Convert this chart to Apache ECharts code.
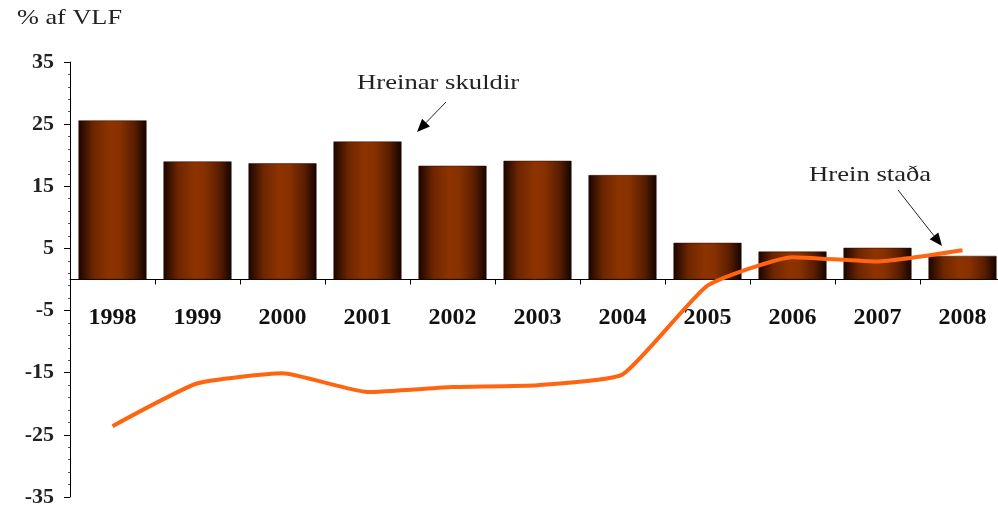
<!DOCTYPE html>
<html><head><meta charset="utf-8">
<script src="https://cdn.jsdelivr.net/npm/echarts@6/dist/echarts.min.js"></script>
<style>html,body{margin:0;padding:0;background:#fff}#c{width:998px;height:514px}</style>
</head><body><div id="c"></div>
<script>
var years = ['1998','1999','2000','2001','2002','2003','2004','2005','2006','2007','2008'];
var netDebt = [25.6, 19.0, 18.7, 22.2, 18.3, 19.1, 16.8, 5.9, 4.5, 5.1, 3.8];
var netPosition = [-23.6, -16.7, -15.1, -18.1, -17.3, -17.0, -15.3, -1.0, 3.6, 2.9, 4.7];
var yTicks = {min: -35, max: 35, interval: 10};

var serif = 'Liberation Serif';
var gridTop = 62, gridBottom = 17, H = 514;
var plotH = H - gridTop - gridBottom;
var zeroOffset = -plotH * (0 - yTicks.min) / (yTicks.max - yTicks.min);

var chart = echarts.init(document.getElementById('c'));
var barGrad = new echarts.graphic.LinearGradient(0, 0, 1, 0, [
  {offset: 0, color: '#1a0500'},
  {offset: 0.22, color: '#6e2600'},
  {offset: 0.45, color: '#8d3300'},
  {offset: 0.6, color: '#883100'},
  {offset: 0.82, color: '#5a1e00'},
  {offset: 1, color: '#140400'}
]);
function arrow(x1, y1, x2, y2) {
  var a = Math.atan2(y2 - y1, x2 - x1), L = 13, W = 5.5;
  var bx = x2 - L * Math.cos(a), by = y2 - L * Math.sin(a);
  return [
    {type: 'line', shape: {x1: x1, y1: y1, x2: bx, y2: by}, style: {stroke: '#222', lineWidth: 1}},
    {type: 'polygon', shape: {points: [[x2, y2],
      [bx + W * Math.sin(a), by - W * Math.cos(a)],
      [bx - W * Math.sin(a), by + W * Math.cos(a)]]}, style: {fill: '#000'}}
  ];
}
function label(txt, x, y, size, sx) {
  return {type: 'text', x: x, y: y, scaleX: sx, scaleY: 1,
    style: {text: txt, font: size + 'px "Liberation Serif"', fill: '#222', textVerticalAlign: 'middle'}};
}
chart.setOption({
  animation: false,
  grid: {left: 70, right: -7, top: gridTop, bottom: gridBottom, containLabel: false, outerBoundsMode: 'none'},
  xAxis: {
    type: 'category', data: years, offset: zeroOffset,
    axisLine: {onZero: false, lineStyle: {color: '#000', width: 1}},
    axisTick: {show: true, length: 5, lineStyle: {color: '#000'}},
    axisLabel: {margin: 26, fontFamily: serif, fontSize: 24, fontWeight: 'bold', color: '#111'}
  },
  yAxis: {
    type: 'value', min: yTicks.min, max: yTicks.max, interval: yTicks.interval,
    splitLine: {show: false},
    axisLine: {show: true, lineStyle: {color: '#000', width: 1}},
    axisTick: {show: true, length: 6, lineStyle: {color: '#000'}},
    minorTick: {show: true, splitNumber: 5, length: 2, lineStyle: {color: '#555'}},
    axisLabel: {margin: 16, fontFamily: serif, fontSize: 22, fontWeight: 'bold', color: '#222'}
  },
  series: [
    {type: 'bar', data: netDebt, barCategoryGap: '20%',
      itemStyle: {color: barGrad, borderColor: '#2a0a00', borderWidth: 0.5}},
    {type: 'line', data: netPosition, smooth: 0.15, symbol: 'none',
      lineStyle: {color: '#ff6510', width: 4}}
  ],
  graphic: [
    label('% af VLF', 17, 18, 21, 1.25),
    label('Hreinar skuldir', 357, 83, 21, 1.27),
    label('Hrein staða', 809, 175, 21, 1.27)
  ].concat(arrow(446, 102, 417, 132)).concat(arrow(898, 190, 942, 246))
});
</script></body></html>
